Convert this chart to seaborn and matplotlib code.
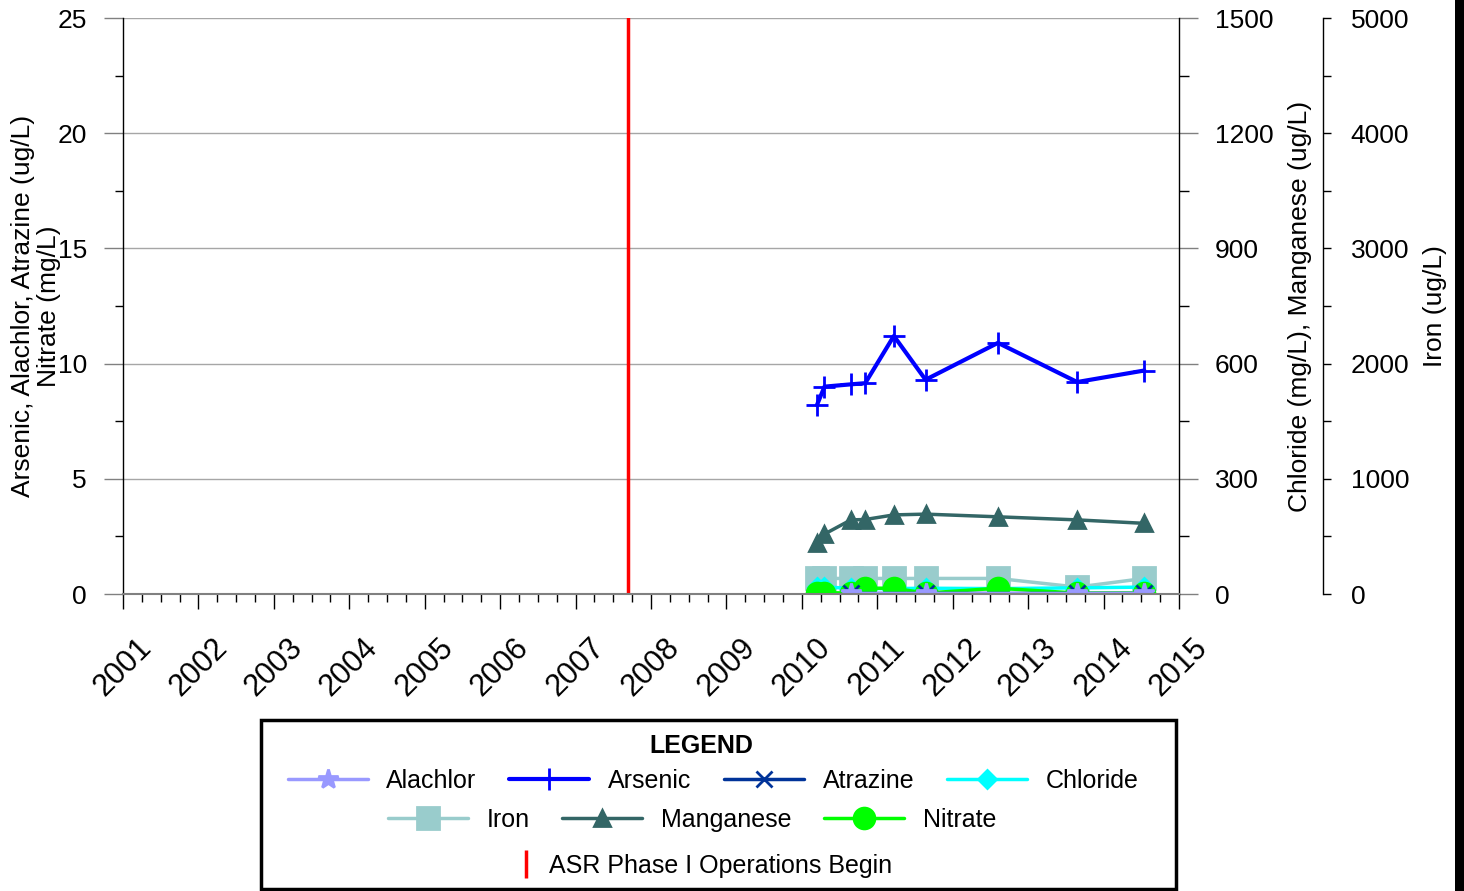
import matplotlib
matplotlib.use('Agg')
import matplotlib.pyplot as plt
from matplotlib.lines import Line2D
from matplotlib.patches import Rectangle
from matplotlib.ticker import MultipleLocator
import seaborn as sns

# sample dates (decimal years) and values
dates = [2010.20, 2010.30, 2010.65, 2010.84, 2011.22, 2011.64, 2012.60, 2013.65, 2014.54]
arsenic = [8.2, 9.0, 9.1, 9.15, 11.2, 9.3, 10.9, 9.2, 9.7]
nitrate = [0.06, 0.06, 0.04, 0.25, 0.25, 0.04, 0.25, 0.04, 0.04]
manganese = [132, 156, 193, 194, 206, 208, 201, 193, 184]
chloride = [18, 18, 15, 14, 14, 15, 14, 16, 18]
iron = [135, 135, 135, 135, 135, 135, 135, 60, 135]
pest_dates = [2010.65, 2011.64, 2013.65, 2014.54]
alachlor = [0.05, 0.05, 0.05, 0.05]
atrazine = [0.05, 0.05, 0.05, 0.05]
asr_start = 2007.70
years = list(range(2001, 2016))

sns.set_theme(style='ticks')
plt.rcParams['font.family'] = ['Liberation Sans', 'DejaVu Sans']
plt.rcParams['text.color'] = 'black'
plt.rcParams['xtick.color'] = 'black'
plt.rcParams['ytick.color'] = 'black'
plt.rcParams['xtick.labelcolor'] = 'black'
plt.rcParams['ytick.labelcolor'] = 'black'

# series styles: color, marker, markersize, linewidth
styles = {
    'Alachlor': ('#9999ff', '*', 15, 2.5),
    'Arsenic': ('#0000ff', '+', 16, 3.0),
    'Atrazine': ('#003399', 'x', 11, 2.5),
    'Chloride': ('#00ffff', 'D', 9, 2.5),
    'Iron': ('#99cccc', 's', 16, 2.5),
    'Manganese': ('#336666', '^', 11, 2.5),
    'Nitrate': ('#00ff00', 'o', 15, 2.5),
}


def kw(name):
    c, m, ms, lw = styles[name]
    return dict(color=c, marker=m, markersize=ms, linewidth=lw,
                markeredgecolor=c, markerfacecolor=c, markeredgewidth=2)


fig = plt.figure(figsize=(14.64, 8.91), dpi=100)
ax = fig.add_subplot(111)
fig.subplots_adjust(left=123/1464, right=1179/1464, top=1-18/891, bottom=1-594/891)
ax2 = ax.twinx()
ax3 = ax.twinx()
ax3.spines['right'].set_position(('axes', 1200/1056))

# stacking: iron lowest, then chloride/manganese, then left-axis series
ax3.set_zorder(1)
ax2.set_zorder(2)
ax.set_zorder(3)
for a in (ax, ax2, ax3):
    a.patch.set_visible(False)

# data
sns.lineplot(x=dates, y=iron, ax=ax3, **kw('Iron'))
sns.lineplot(x=dates, y=manganese, ax=ax2, **kw('Manganese'))
sns.lineplot(x=dates, y=chloride, ax=ax2, **kw('Chloride'))
sns.lineplot(x=dates, y=arsenic, ax=ax, **kw('Arsenic'))
sns.lineplot(x=dates, y=nitrate, ax=ax, **kw('Nitrate'))
sns.lineplot(x=pest_dates, y=atrazine, ax=ax, **kw('Atrazine'))
sns.lineplot(x=pest_dates, y=alachlor, ax=ax, **kw('Alachlor'))
ax.axvline(asr_start, color='#ff0000', lw=2.5)

# axes ranges and ticks
ax.set_xlim(2001, 2015)
ax.set_xticks(years)
ax.set_xticklabels([str(y) for y in years], rotation=45, ha='center')
ax.xaxis.set_minor_locator(MultipleLocator(0.25))
ax.set_ylim(0, 25)
ax.yaxis.set_major_locator(MultipleLocator(5))
ax.yaxis.set_minor_locator(MultipleLocator(2.5))
ax2.set_ylim(0, 1500)
ax2.yaxis.set_major_locator(MultipleLocator(300))
ax2.yaxis.set_minor_locator(MultipleLocator(150))
ax3.set_ylim(0, 5000)
ax3.yaxis.set_major_locator(MultipleLocator(1000))
ax3.yaxis.set_minor_locator(MultipleLocator(500))

# grid drawn on the lowest axes so lines sit above it
ax3.xaxis.set_major_locator(MultipleLocator(1))
ax3.grid(True, which='major', color='#a6a6a6', lw=1)
ax.grid(False)
ax2.grid(False)

for a in (ax, ax2, ax3):
    a.set_xlabel('')
    a.set_ylabel('')
    for s in a.spines.values():
        s.set_visible(False)
        s.set_linewidth(1)
        s.set_color('black')
ax.spines['left'].set_visible(True)
ax.spines['bottom'].set_visible(True)
ax.spines['bottom'].set_color('#808080')
ax.spines['bottom'].set_linewidth(1.5)
ax2.spines['right'].set_visible(True)
ax3.spines['right'].set_visible(True)

ax.tick_params(axis='x', which='major', direction='out', length=11, width=1,
               color='black', labelsize=22, pad=17)
ax.tick_params(axis='x', which='minor', direction='out', length=6, width=1, color='black')
ax.tick_params(axis='y', which='major', direction='out', length=14, width=1,
               color='#808080', labelsize=19, pad=12)
ax.tick_params(axis='y', which='minor', direction='out', length=6, width=1, color='black')
ax2.tick_params(axis='y', which='major', direction='out', length=14, width=1,
                color='#808080', labelsize=19, pad=12)
ax2.tick_params(axis='y', which='minor', direction='out', length=7, width=1, color='black')
ax3.tick_params(axis='y', which='both', direction='out', length=6, width=1,
                color='black', labelsize=19, pad=14)
ax3.tick_params(axis='x', which='both', bottom=False, labelbottom=False)
ax2.tick_params(axis='x', which='both', bottom=False, labelbottom=False)

# axis titles
fig.text(36/1464, 1-306/891, 'Arsenic, Alachlor, Atrazine (ug/L)\nNitrate (mg/L)',
         rotation=90, ha='center', va='center', fontsize=19, linespacing=1.1,
         multialignment='center')
fig.text(1300/1464, 1-306/891, 'Chloride (mg/L), Manganese (ug/L)',
         rotation=90, ha='center', va='center', fontsize=19)
fig.text(1435/1464, 1-306/891, 'Iron (ug/L)',
         rotation=90, ha='center', va='center', fontsize=19)

# legend box
fig.add_artist(Rectangle((261/1464, 2/891), (1176-261)/1464, (889-720)/891,
                         transform=fig.transFigure, fill=False, lw=2.5, ec='black'))
fig.text(701/1464, 1-746/891, 'LEGEND', ha='center', va='center',
         fontsize=18, fontweight='bold')


def handle(name):
    return Line2D([], [], **kw(name))


leg_kw = dict(frameon=False, fontsize=18, handlelength=3.2, handletextpad=0.75,
              columnspacing=1.3, loc='center')
row1 = ['Alachlor', 'Arsenic', 'Atrazine', 'Chloride']
row2 = ['Iron', 'Manganese', 'Nitrate']
fig.legend([handle(n) for n in row1], row1, ncol=4,
           bbox_to_anchor=(713/1464, 1-781/891), **leg_kw)
fig.legend([handle(n) for n in row2], row2, ncol=3,
           bbox_to_anchor=(692/1464, 1-820/891), **leg_kw)
asr = Line2D([], [], color='#ff0000', marker='|', linestyle='None',
             markersize=20, markeredgewidth=2.5)
fig.legend([asr], ['ASR Phase I Operations Begin'], frameon=False, fontsize=18,
           handlelength=1.0, handletextpad=0.4, loc='center',
           bbox_to_anchor=(703/1464, 1-866/891))

# black strip along the right edge
fig.add_artist(Rectangle((1455/1464, 0), 9/1464, 1, transform=fig.transFigure,
                         color='black', lw=0))

fig.savefig('out.png', dpi=100)
